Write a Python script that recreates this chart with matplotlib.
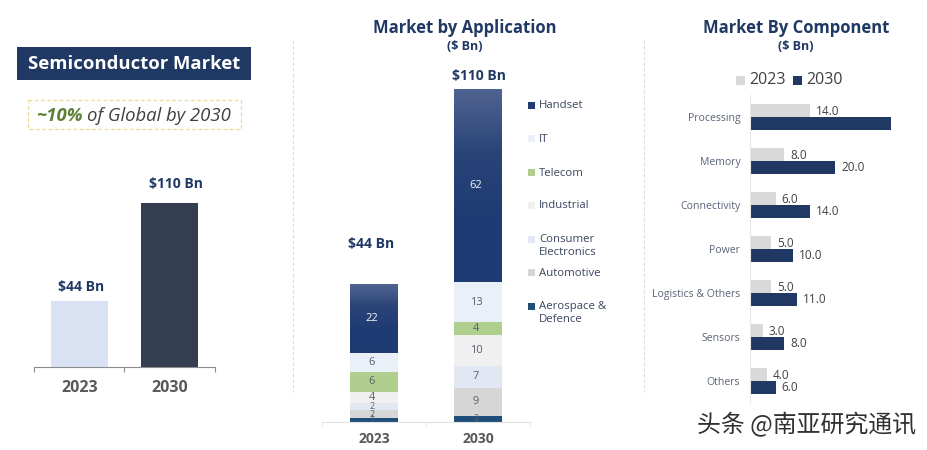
"""Semiconductor market panels: total, by application, by component."""

import matplotlib.pyplot as plt
import numpy as np
from matplotlib.colors import LinearSegmentedColormap
from matplotlib.patches import Rectangle

W, H = 928, 450
NAVY = "#1f3864"
plt.rcParams["font.family"] = ["Open Sans", "DejaVu Sans"]

YEARS = ["2023", "2030"]
TOTALS = [44, 110]
TOTAL_LABELS = ["$44 Bn", "$110 Bn"]

# stacked bottom to top
APPLICATIONS = ["Aerospace &\nDefence", "Automotive", "Consumer\nElectronics", "Industrial", "Telecom", "IT", "Handset"]
APP_2023 = [1.3, 2.4, 2.4, 3.6, 6.4, 6, 22]
APP_2030 = [2, 9, 7, 10, 4, 13, 62]
APP_COLORS = ["#1f4e79", "#d6d6d6", "#e1e8f4", "#f1f0f0", "#b0cf8e", "#eaf0f7", "#1f3b73"]

COMPONENTS = ["Processing", "Memory", "Connectivity", "Power", "Logistics & Others", "Sensors", "Others"]
COMP_2023 = [14, 8, 6, 5, 5, 3, 4]
COMP_2030 = [33, 20, 14, 10, 11, 8, 6]


def axes_px(fig, x0, y0, x1, y1):
    # pixel box measured from the top left of the picture
    ax = fig.add_axes([x0 / W, 1 - y1 / H, (x1 - x0) / W, (y1 - y0) / H])
    ax.patch.set_alpha(0)
    return ax


def clean(ax):
    for spine in ("top", "right", "left", "bottom"):
        ax.spines[spine].set_visible(False)


fig = plt.figure(figsize=(W / 100, H / 100), dpi=100, facecolor="white")

# overlay in pixel coordinates for titles, legends and decoration
bg = axes_px(fig, 0, 0, W, H)
bg.set_xlim(0, W)
bg.set_ylim(H, 0)
bg.axis("off")

bg.add_patch(Rectangle((17, 47), 234, 33, color=NAVY, lw=0))
bg.text(134, 64, "Semiconductor Market", color="white", fontsize=13.3, fontweight="bold", ha="center", va="center")
bg.add_patch(Rectangle((28, 100), 213, 29, fill=False, ec="#e9dc94", lw=0.9, ls=(0, (3, 2))))
bg.text(83, 116, "~10%", color="#5f8038", fontsize=13.3, fontweight="bold", style="italic", ha="right", va="center")
bg.text(87, 116, "of Global by 2030", color="#404040", fontsize=13.3, style="italic", ha="left", va="center")

for x in (293, 644):
    bg.plot([x, x], [40, 392], color="#dcdcdc", lw=0.8, ls=(0, (3, 2)))

for x, title in ((465, "Market by Application"), (796, "Market By Component")):
    bg.text(x, 28, title, color=NAVY, fontsize=12, fontweight="bold", ha="center", va="center")
    bg.text(x, 46, "($ Bn)", color=NAVY, fontsize=9, fontweight="bold", ha="center", va="center")

# left panel
ax = axes_px(fig, 34, 203, 215, 367)
ax.bar([0, 1], TOTALS, width=0.626, color=["#d9e2f3", "#333f50"])
ax.set_xlim(-0.5, 1.5)
ax.set_ylim(0, 110)
clean(ax)
ax.spines["bottom"].set_visible(True)
ax.spines["bottom"].set_color("#8c8c8c")
ax.set_yticks([])
ax.set_xticks([-0.5, 0.5, 1.5], labels=["", "", ""])
ax.tick_params(axis="x", length=3.5, color="#8c8c8c")
for i, year in enumerate(YEARS):
    ax.annotate(year, (i, 0), xytext=(0, -21), textcoords="offset pixels", ha="center", va="center",
                color="#595959", fontsize=11.5, fontweight="bold")
    ax.annotate(TOTAL_LABELS[i], (i, TOTALS[i]), xytext=(2 + 4 * i, 14 + 5 * i), textcoords="offset pixels",
                ha="center", va="center", color=NAVY, fontsize=10, fontweight="bold", annotation_clip=False)

# middle panel
ax = axes_px(fig, 322, 89, 530, 422)
bottoms = [0.0, 0.0]
handset_bars = None
for name, v23, v30, color in zip(APPLICATIONS, APP_2023, APP_2030, APP_COLORS):
    bars = ax.bar([0, 1], [v23, v30], width=0.46, bottom=bottoms, color=color, zorder=2)
    handset_bars = bars
    for i, val in enumerate((v23, v30)):
        ax.text(i - 0.02, bottoms[i] + val / 2, f"{val:.0f}", ha="center", va="center", zorder=4,
                fontsize=6.5 if val < 3 else 8, color="#f4f6fa" if name == "Handset" else "#5c5f70")
    bottoms = [bottoms[0] + v23, bottoms[1] + v30]

# the handset segments fade lighter toward the top
fade = LinearSegmentedColormap.from_list("fade", ["#4f6390", "#2a4478", "#1f3b73", "#1f3b73"])
for bar in handset_bars:
    x0, y0, w, h = bar.get_x(), bar.get_y(), bar.get_width(), bar.get_height()
    ax.imshow(np.linspace(0, 1, 64).reshape(-1, 1), extent=(x0, x0 + w, y0, y0 + h), aspect="auto", cmap=fade, zorder=3)

ax.set_xlim(-0.5, 1.5)
ax.set_ylim(0, 107)
clean(ax)
ax.spines["bottom"].set_visible(True)
ax.spines["bottom"].set_color("#e2e2e2")
ax.set_yticks([])
ax.set_xticks([-0.5, 0.5, 1.5], labels=["", "", ""])
ax.tick_params(axis="x", length=3, color="#e8e8e8")
for i, year in enumerate(YEARS):
    ax.annotate(year, (i, 0), xytext=(0, -17), textcoords="offset pixels", ha="center", va="center",
                color="#595959", fontsize=10, fontweight="bold", annotation_clip=False)
    ax.annotate(TOTAL_LABELS[i], (i, bottoms[i]), xytext=(-3 + 4 * i, 41 - 28 * i), textcoords="offset pixels",
                ha="center", va="center", color=NAVY, fontsize=10, fontweight="bold", annotation_clip=False)

legend_y = [313, 272, 246, 205, 172, 138, 105]
for name, color, y in zip(APPLICATIONS, APP_COLORS, legend_y):
    marker_y = y - 7 if "\n" in name else y
    bg.add_patch(Rectangle((528, marker_y - 3.5), 7, 7, color=color, lw=0))
    bg.text(539, y + (0 if "\n" in name else 1), name, color="#3a4660", fontsize=8.2, ha="left", va="center",
            linespacing=1.25)

# right panel
ax = axes_px(fig, 750, 95, W, 403)
rows = np.arange(len(COMPONENTS))
ax.barh(rows - 0.148, COMP_2023, height=0.295, color="#d9d9d9")
ax.barh(rows + 0.148, COMP_2030, height=0.295, color=NAVY)
ax.set_xlim(0, (W - 750) / 4.27)
ax.set_ylim(6.5, -0.5)
clean(ax)
ax.spines["left"].set_visible(True)
ax.spines["left"].set_color("#e8e8e8")
ax.set_xticks([])
ax.set_yticks(rows, labels=COMPONENTS)
ax.tick_params(axis="y", length=0, pad=7, labelsize=7.6, labelcolor="#5a6478")
for tick in ax.get_yticklabels():
    tick.set_y(tick.get_position()[1])
for i, val in enumerate(COMP_2023):
    ax.annotate(f"{val:.1f}", (val, i - 0.148), xytext=(6, -1), textcoords="offset pixels", va="center",
                color="#404040", fontsize=8.5)
for i, val in enumerate(COMP_2030):
    # the processing bar carries no visible label
    if i > 0:
        ax.annotate(f"{val:.1f}", (val, i + 0.148), xytext=(6, 0), textcoords="offset pixels", va="center",
                    color="#404040", fontsize=8.5)

for x, year, color in ((736, "2023", "#d9d9d9"), (793, "2030", NAVY)):
    bg.add_patch(Rectangle((x, 75.5), 9, 9, color=color, lw=0))
    bg.text(x + 13, 80.5, year, color="#404040", fontsize=11.5, ha="left", va="center")

bg.text(697, 425, "头条 @南亚研究通讯", color="#303030", fontsize=17.2, ha="left", va="center",
        family=["Noto Sans CJK SC", "DejaVu Sans"])

fig.savefig("out.png", dpi=100)
